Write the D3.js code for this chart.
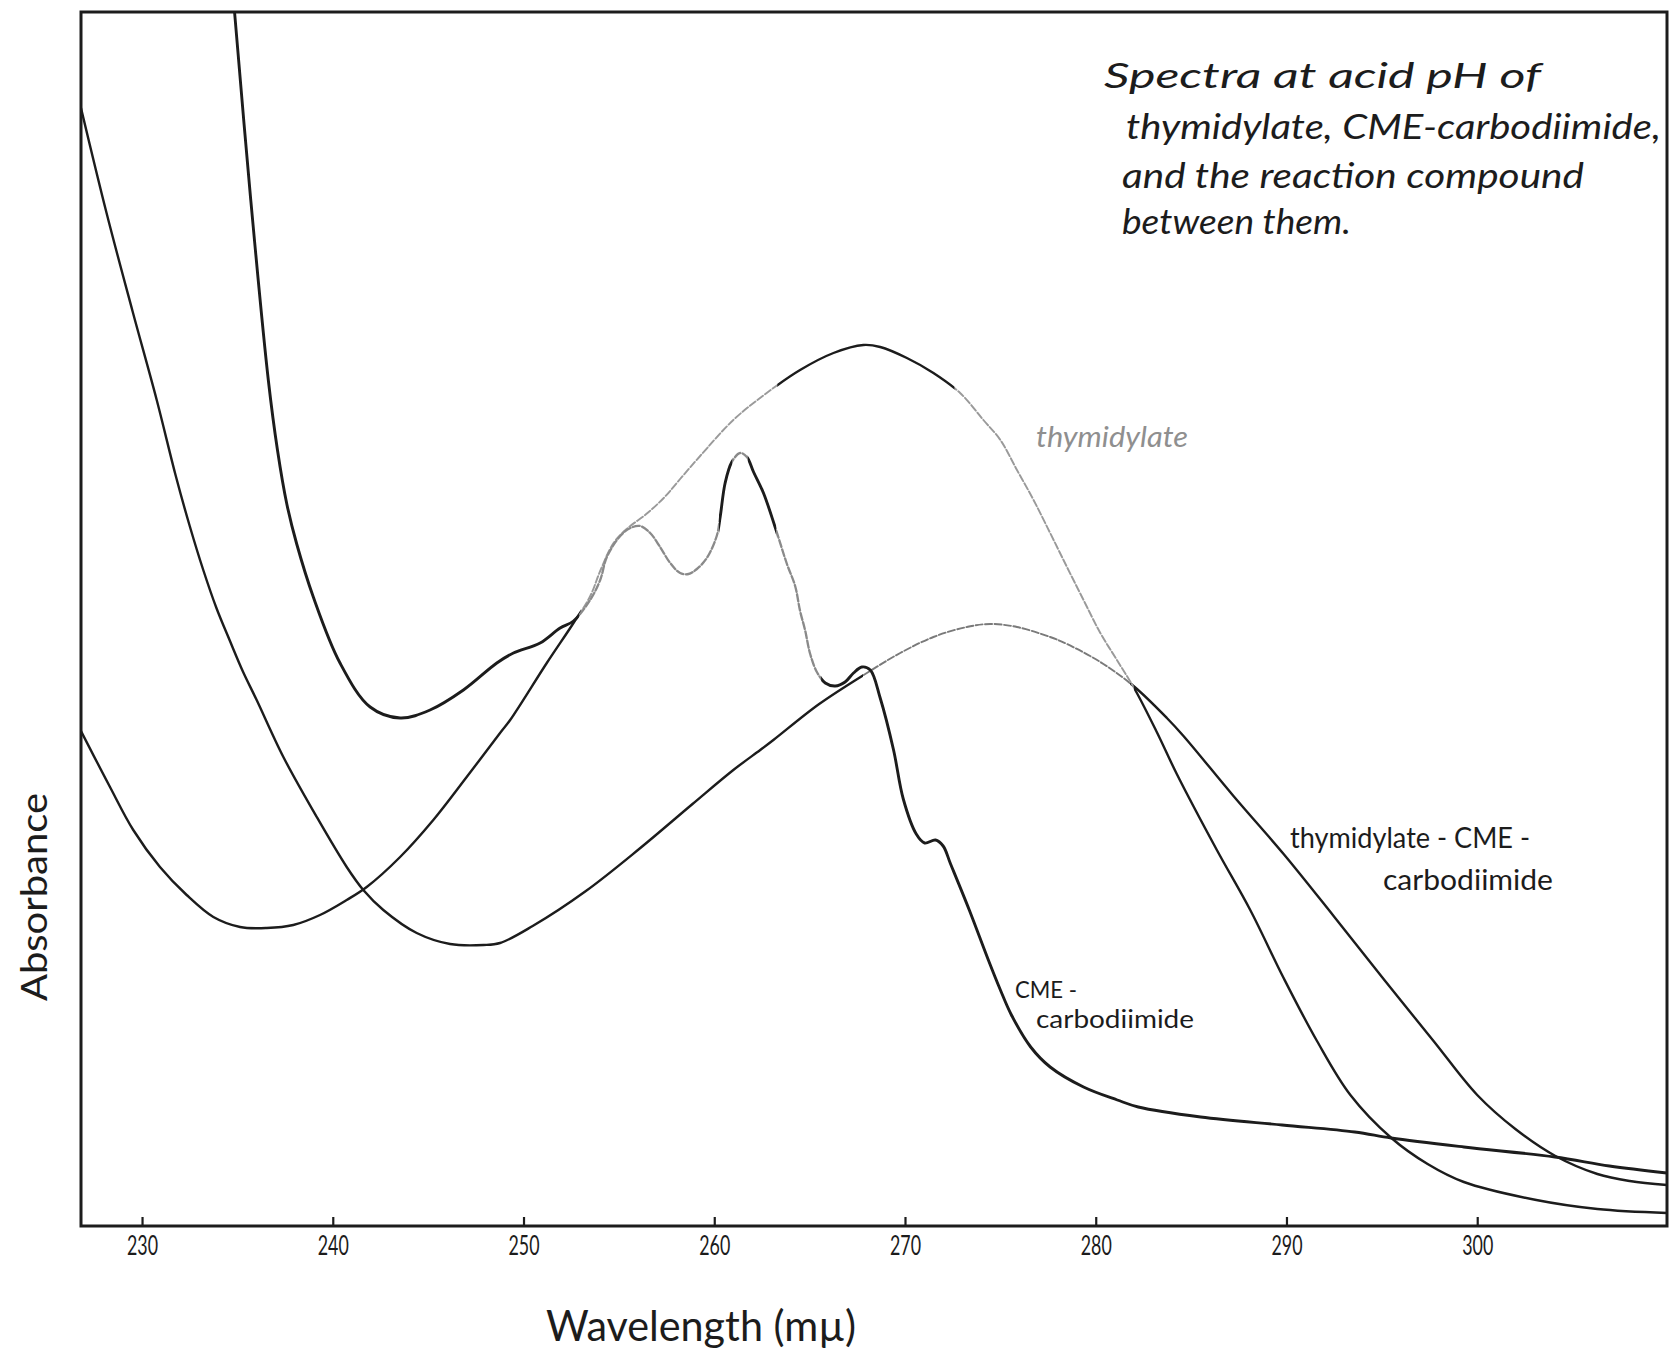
<!DOCTYPE html>
<html><head><meta charset="utf-8">
<script src="https://cdn.jsdelivr.net/npm/d3@7"></script>
<style>
html,body{margin:0;padding:0;background:#fff;}
svg{display:block;}
</style></head>
<body>
<svg id="chart" width="1670" height="1356"></svg>
<script>
// ---------- data (wavelength in mµ, relative absorbance) ----------
const xTicks = [230, 240, 250, 260, 270, 280, 290, 300];
const xTickLabels = ["230", "240", "250", "260", "270", "280", "290", "300"];
const seriesNames = ["thymidylate", "CME-carbodiimide", "thymidylate-CME-carbodiimide"];
const annotationLines = ["Spectra  at  acid  pH  of", "thymidylate, CME-carbodiimide,", "and  the  reaction  compound", "between  them."];

const thymidylate = [
  [226.8,0.495],[228.32,0.439],[229.54,0.396],[230.94,0.359],[232.34,0.331],[233.74,0.309],
  [235.14,0.299],[236.54,0.298],[237.93,0.301],[239.33,0.311],[240.73,0.326],[241.78,0.339],
  [243.53,0.369],[245.27,0.406],[247.02,0.449],[248.77,0.493],[249.3,0.506],[251.22,0.563],
  [252.62,0.603],[253.5,0.630],[254.02,0.655],[254.72,0.683],[255.41,0.697],[256.5,0.713],
  [257.4,0.729],[258.21,0.747],[259.26,0.770],[261.0,0.806],[262.75,0.833],[264.5,0.856],
  [266.25,0.873],[267.82,0.881],[268.7,0.879],[270.1,0.868],[271.49,0.853],[272.89,0.833],
  [274.11,0.806],[275.0,0.786],[275.87,0.756],[276.74,0.726],[277.61,0.693],[278.49,0.659],
  [279.36,0.626],[280.24,0.593],[281.11,0.566],[282.07,0.536],[283.2,0.494],[284.25,0.452],
  [286.35,0.376],[288.1,0.316],[289.85,0.248],[291.6,0.185],[293.35,0.131],[295.5,0.088],
  [297.4,0.062],[299.3,0.044],[303.1,0.026],[306.3,0.017],[309.95,0.013]
];

const cmeCarbodiimide = [
  [234.85,1.214],[235.7,1.026],[236.62,0.846],[237.1,0.776],[237.59,0.722],[238.11,0.682],
  [238.98,0.629],[240.38,0.563],[241.96,0.519],[243.53,0.508],[245.1,0.516],[246.85,0.536],
  [248.6,0.563],[249.47,0.573],[250.87,0.583],[251.92,0.598],[252.62,0.605],[253.49,0.626],
  [254.02,0.646],[254.37,0.669],[255.07,0.690],[255.6,0.698],[256.11,0.700],[256.64,0.693],
  [257.16,0.679],[257.69,0.663],[258.21,0.653],[258.65,0.652],[259.09,0.657],[259.61,0.668],
  [260.13,0.690],[260.31,0.709],[260.57,0.743],[260.92,0.764],[261.36,0.773],[261.71,0.769],
  [262.06,0.754],[262.58,0.733],[263.19,0.699],[263.81,0.662],[264.24,0.640],[264.5,0.615],
  [264.76,0.596],[265.03,0.572],[265.38,0.554],[265.82,0.543],[266.34,0.540],[266.86,0.544],
  [267.3,0.553],[267.74,0.559],[268.18,0.556],[268.7,0.528],[269.4,0.476],[269.91,0.427],
  [270.59,0.392],[271.03,0.383],[271.6,0.386],[272.0,0.380],[272.39,0.362],[273.37,0.316],
  [274.37,0.266],[274.98,0.237],[275.58,0.211],[276.59,0.179],[277.61,0.159],[279.36,0.139],
  [281.13,0.126],[282.23,0.119],[285.5,0.109],[289.77,0.101],[293.58,0.094],[295.49,0.088],
  [299.3,0.079],[304.07,0.069],[306.93,0.060],[309.95,0.053]
];

const reactionCompound = [
  [226.8,1.118],[228.14,1.013],[229.5,0.915],[230.77,0.826],[231.77,0.750],[232.5,0.700],
  [233.21,0.656],[233.9,0.618],[234.61,0.585],[235.3,0.554],[236.01,0.526],[237.41,0.469],
  [239.16,0.409],[240.73,0.359],[241.6,0.336],[242.65,0.316],[244.4,0.293],[246.15,0.282],
  [247.9,0.281],[248.77,0.283],[250.48,0.300],[253.27,0.335],[256.06,0.377],[258.86,0.422],
  [261.0,0.456],[262.41,0.476],[263.1,0.486],[265.5,0.522],[268.0,0.553],[269.75,0.573],
  [271.49,0.589],[273.24,0.599],[274.47,0.602],[275.87,0.599],[277.61,0.589],[278.49,0.582],
  [280.24,0.564],[281.98,0.540],[283.73,0.508],[284.6,0.490],[287.22,0.430],[289.85,0.372],
  [292.47,0.310],[295.09,0.247],[297.71,0.185],[300.0,0.131],[302.0,0.097],[304.1,0.070],
  [306.3,0.052],[308.0,0.045],[309.95,0.041]
];

// wavelength stretches where the original trace is faint / broken
const thymidylateFaint = [[253.0, 263.3], [272.6, 282.0]];
const cmeFaint = [[252.9, 260.25], [260.95, 261.75], [263.25, 265.6]];
const reactionFaint = [[267.8, 281.8]];

// ---------- drawing ----------
const svg = d3.select("#chart");
const FONT = "Lato, 'Open Sans', 'DejaVu Sans', sans-serif";
const INK = "#1c1c1c";

const x = d3.scaleLinear().domain([226.8, 309.95]).range([81, 1667]);
const y = d3.scaleLinear().domain([0, 1.214]).range([1226, 12]);

const defs = svg.append("defs");
defs.append("clipPath").attr("id", "plotClip").append("rect")
  .attr("x", x.range()[0]).attr("y", y.range()[1])
  .attr("width", x.range()[1] - x.range()[0]).attr("height", y.range()[0] - y.range()[1]);

const line = d3.line().x(d => x(d[0])).y(d => y(d[1])).curve(d3.curveCatmullRom.alpha(0.5));

function complement(ranges) {
  const [lo, hi] = x.domain();
  const out = []; let start = lo;
  ranges.forEach(r => { out.push([start, r[0]]); start = r[1]; });
  out.push([start, hi]);
  return out;
}
function makeClip(id, ranges) {
  const cp = defs.append("clipPath").attr("id", id);
  ranges.forEach(r => {
    cp.append("rect").attr("x", x(r[0])).attr("y", y.range()[1] - 5)
      .attr("width", Math.max(0, x(r[1]) - x(r[0]))).attr("height", y.range()[0] - y.range()[1] + 10);
  });
}

const plot = svg.append("g").attr("clip-path", "url(#plotClip)");

function drawSeries(key, data, faint, faintColor, width) {
  makeClip(key + "Solid", complement(faint));
  makeClip(key + "Faint", faint);
  plot.append("g").attr("clip-path", `url(#${key}Faint)`).append("path")
    .datum(data).attr("d", line).attr("fill", "none")
    .attr("stroke", faintColor).attr("stroke-width", width * 0.8)
    .attr("stroke-dasharray", "7 2.5").attr("stroke-linecap", "round");
  plot.append("g").attr("clip-path", `url(#${key}Solid)`).append("path")
    .datum(data).attr("d", line).attr("fill", "none")
    .attr("stroke", INK).attr("stroke-width", width).attr("stroke-linejoin", "round");
}

drawSeries("react", reactionCompound, reactionFaint, "#7a7a7a", 2.4);
drawSeries("thym", thymidylate, thymidylateFaint, "#9a9a9a", 2.4);
drawSeries("cme", cmeCarbodiimide, cmeFaint, "#8a8a8a", 2.9);

// frame
svg.append("rect")
  .attr("x", x.range()[0]).attr("y", y.range()[1])
  .attr("width", x.range()[1] - x.range()[0]).attr("height", y.range()[0] - y.range()[1])
  .attr("fill", "none").attr("stroke", INK).attr("stroke-width", 3);

// x axis (ticks point inward)
const xAxis = d3.axisBottom(x).tickValues(xTicks)
  .tickFormat((d, i) => xTickLabels[i]).tickSize(-9).tickPadding(11);
const gx = svg.append("g").attr("transform", `translate(0,${y(0)})`).call(xAxis);
gx.select(".domain").remove();
gx.selectAll(".tick line").attr("stroke", INK).attr("stroke-width", 2.2);
gx.selectAll(".tick text").attr("font-family", FONT).attr("font-size", 26)
  .attr("fill", INK).attr("textLength", 31).attr("lengthAdjust", "spacingAndGlyphs");

// axis titles
svg.append("text").attr("x", 546).attr("y", 1341)
  .attr("font-family", FONT).attr("font-size", 42).attr("fill", INK)
  .attr("textLength", 310).attr("lengthAdjust", "spacingAndGlyphs")
  .text("Wavelength (mµ)");

svg.append("text").attr("transform", "translate(47,1001) rotate(-90)")
  .attr("font-family", FONT).attr("font-size", 37).attr("fill", INK)
  .attr("textLength", 208).attr("lengthAdjust", "spacingAndGlyphs")
  .text("Absorbance");

// annotation
const annPos = [[1104, 88, 437], [1126, 139, 535], [1122, 188, 462], [1122, 234, 229]];
annotationLines.forEach((t, i) => {
  svg.append("text").attr("x", annPos[i][0]).attr("y", annPos[i][1])
    .attr("font-family", FONT).attr("font-style", "italic").attr("font-size", 34)
    .attr("fill", INK).attr("textLength", annPos[i][2]).attr("lengthAdjust", "spacingAndGlyphs")
    .text(t);
});

// curve labels
function label(txt, xx, yy, size, len, color, italic) {
  svg.append("text").attr("x", xx).attr("y", yy)
    .attr("font-family", FONT).attr("font-size", size).attr("fill", color)
    .attr("font-style", italic ? "italic" : "normal")
    .attr("textLength", len).attr("lengthAdjust", "spacingAndGlyphs").text(txt);
}
label("thymidylate", 1036, 447, 28, 152, "#8f8f8f", true);
label("thymidylate - CME -", 1290, 848, 28, 240, INK, false);
label("carbodiimide", 1383, 890, 28, 170, INK, false);
label("CME -", 1015, 998, 23, 62, INK, false);
label("carbodiimide", 1036, 1028, 25, 158, INK, false);
</script>
</body></html>
